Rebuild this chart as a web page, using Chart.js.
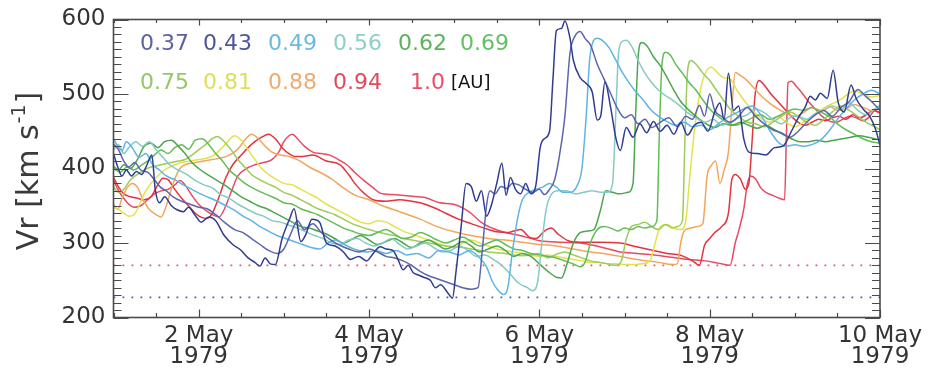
<!DOCTYPE html>
<html>
<head>
<meta charset="utf-8">
<script src="https://cdn.jsdelivr.net/npm/chart.js@4/dist/chart.umd.min.js"></script>
<style>
  html, body { margin: 0; padding: 0; background: #ffffff; }
  #wrap { width: 932px; height: 368px; }
</style>
</head>
<body>
<div id="wrap"><canvas id="vr" width="932" height="368"></canvas></div>
<script>
// Radial solar-wind speed Vr [km/s] at several heliocentric distances, 1-10 May 1979.
// Each series: [day of May (fractional), speed].

const distances = ['0.37', '0.43', '0.49', '0.56', '0.62', '0.69', '0.75', '0.81', '0.88', '0.94', '1.0'];
const unitLabel = '[AU]';

const dayTicks = [2, 4, 6, 8, 10];
const monthLabel = 'May';
const yearLabel = '1979';
const speedTicks = [200, 300, 400, 500, 600];
const dayRange = [1, 10];
const speedRange = [200, 600];

// reference speed levels (dotted)
const refLevels = [270, 227];

const v037 = [[1.00,420],[1.05,402],[1.10,390],[1.15,398],[1.21,390],[1.27,396],[1.33,392],[1.39,404],[1.45,418],[1.49,372],[1.54,354],[1.60,362],[1.68,350],[1.74,345],[1.82,342],[1.88,348],[1.96,337],[2.03,328],[2.12,335],[2.20,330],[2.30,310],[2.40,298],[2.49,291],[2.58,280],[2.66,274],[2.72,269],[2.78,280],[2.84,272],[2.90,271],[2.98,306],[3.07,333],[3.12,346],[3.20,302],[3.26,312],[3.33,332],[3.42,328],[3.50,300],[3.60,296],[3.70,288],[3.78,278],[3.88,282],[3.97,276],[4.05,286],[4.13,295],[4.20,292],[4.28,290],[4.34,278],[4.40,264],[4.46,270],[4.52,260],[4.58,257],[4.64,254],[4.72,250],[4.78,240],[4.84,244],[4.92,234],[4.98,226],[5.02,260],[5.08,320],[5.14,380],[5.20,376],[5.26,356],[5.32,370],[5.38,336],[5.44,352],[5.50,380],[5.56,407],[5.61,364],[5.66,388],[5.72,372],[5.78,366],[5.84,380],[5.90,366],[5.96,378],[6.01,428],[6.06,440],[6.12,450],[6.16,520],[6.20,585],[6.26,588],[6.30,598],[6.36,575],[6.40,545],[6.48,522],[6.55,514],[6.62,503],[6.68,465],[6.72,470],[6.77,516],[6.84,480],[6.90,440],[6.95,424],[7.02,455],[7.10,442],[7.18,460],[7.26,448],[7.34,463],[7.42,450],[7.50,458],[7.58,446],[7.66,462],[7.74,445],[7.82,458],[7.90,462],[7.98,450],[8.06,476],[8.12,488],[8.17,466],[8.22,528],[8.28,478],[8.34,484],[8.40,440],[8.46,422],[8.56,420],[8.66,418],[8.76,428],[8.86,430],[8.96,450],[9.04,468],[9.12,482],[9.18,497],[9.24,492],[9.30,501],[9.38,494],[9.45,532],[9.51,488],[9.58,476],[9.66,512],[9.72,494],[9.80,480],[9.88,470],[9.95,452],[10.0,431]];

const v043 = [[1.00,433],[1.06,425],[1.12,410],[1.18,402],[1.25,408],[1.32,398],[1.40,395],[1.48,385],[1.55,375],[1.62,370],[1.70,362],[1.80,356],[1.90,352],[2.00,348],[2.10,346],[2.20,338],[2.30,328],[2.42,318],[2.52,314],[2.62,306],[2.72,298],[2.82,290],[2.92,286],[3.00,292],[3.08,312],[3.16,330],[3.24,318],[3.34,326],[3.44,314],[3.54,305],[3.64,298],[3.76,292],[3.88,288],[4.00,292],[4.10,288],[4.20,282],[4.30,280],[4.40,276],[4.50,270],[4.60,262],[4.70,256],[4.80,252],[4.90,248],[5.00,244],[5.10,240],[5.20,238],[5.28,240],[5.33,290],[5.38,350],[5.42,370],[5.48,366],[5.55,376],[5.62,373],[5.68,380],[5.76,378],[5.84,372],[5.92,368],[6.00,372],[6.06,365],[6.12,372],[6.18,385],[6.24,420],[6.30,470],[6.36,555],[6.42,578],[6.48,584],[6.54,574],[6.60,566],[6.68,540],[6.76,520],[6.84,500],[6.92,480],[7.00,468],[7.08,472],[7.16,460],[7.24,466],[7.32,455],[7.42,462],[7.52,468],[7.62,456],[7.72,470],[7.80,466],[7.88,485],[7.94,470],[8.00,500],[8.06,478],[8.14,470],[8.24,462],[8.34,470],[8.44,482],[8.54,470],[8.64,460],[8.74,452],[8.84,448],[8.94,442],[9.04,450],[9.14,462],[9.24,472],[9.34,478],[9.44,470],[9.54,482],[9.64,490],[9.74,506],[9.82,498],[9.90,490],[10.0,478]];

const v049 = [[1.00,440],[1.05,430],[1.10,424],[1.15,436],[1.22,428],[1.30,415],[1.38,420],[1.46,405],[1.54,398],[1.62,390],[1.72,385],[1.82,378],[1.92,372],[2.02,366],[2.12,361],[2.22,356],[2.32,350],[2.42,344],[2.52,336],[2.62,330],[2.72,322],[2.82,316],[2.92,310],[3.02,306],[3.12,302],[3.22,298],[3.32,294],[3.42,292],[3.52,300],[3.60,304],[3.68,300],[3.78,294],[3.88,290],[3.98,288],[4.08,290],[4.20,286],[4.32,290],[4.44,284],[4.56,286],[4.70,280],[4.82,290],[4.94,288],[5.06,284],[5.18,290],[5.30,280],[5.38,268],[5.45,248],[5.52,236],[5.58,231],[5.63,240],[5.68,285],[5.74,330],[5.80,358],[5.88,368],[5.96,372],[6.04,375],[6.12,380],[6.20,375],[6.28,368],[6.36,368],[6.44,376],[6.50,400],[6.55,470],[6.59,545],[6.63,570],[6.68,575],[6.74,572],[6.82,562],[6.90,545],[6.98,528],[7.06,514],[7.14,502],[7.22,492],[7.30,480],[7.40,470],[7.50,463],[7.60,458],[7.70,462],[7.80,456],[7.90,458],[8.00,452],[8.10,460],[8.20,468],[8.30,474],[8.40,480],[8.50,484],[8.60,472],[8.70,452],[8.80,436],[8.90,430],[9.00,432],[9.10,430],[9.20,432],[9.30,438],[9.40,450],[9.50,466],[9.60,480],[9.70,492],[9.80,500],[9.90,505],[10.0,500]];

const v056 = [[1.00,425],[1.06,432],[1.12,420],[1.18,428],[1.26,436],[1.34,430],[1.42,436],[1.50,425],[1.58,415],[1.66,405],[1.76,398],[1.86,392],[1.96,384],[2.06,378],[2.16,374],[2.26,365],[2.36,360],[2.46,352],[2.56,346],[2.66,340],[2.76,336],[2.86,330],[2.96,328],[3.06,324],[3.16,320],[3.26,315],[3.36,310],[3.46,306],[3.56,300],[3.66,298],[3.76,304],[3.86,306],[3.96,300],[4.06,296],[4.16,300],[4.26,306],[4.36,298],[4.46,292],[4.56,296],[4.66,300],[4.76,294],[4.86,288],[4.96,290],[5.06,296],[5.16,290],[5.26,282],[5.36,284],[5.46,278],[5.56,270],[5.66,258],[5.76,246],[5.86,240],[5.92,236],[5.98,248],[6.03,300],[6.08,345],[6.14,365],[6.22,370],[6.32,370],[6.42,366],[6.52,368],[6.62,370],[6.72,368],[6.80,368],[6.86,380],[6.90,480],[6.93,555],[6.97,570],[7.02,572],[7.08,565],[7.16,545],[7.24,528],[7.32,515],[7.40,505],[7.48,498],[7.56,492],[7.64,485],[7.74,475],[7.84,468],[7.94,462],[8.04,466],[8.14,458],[8.24,462],[8.34,468],[8.44,472],[8.54,480],[8.64,475],[8.74,466],[8.84,460],[8.94,468],[9.04,470],[9.14,466],[9.24,474],[9.34,478],[9.44,484],[9.54,480],[9.64,488],[9.74,478],[9.84,472],[9.94,480],[10.0,485]];

const v062 = [[1.00,403],[1.06,398],[1.12,405],[1.20,400],[1.28,412],[1.36,430],[1.44,434],[1.52,428],[1.60,436],[1.68,438],[1.76,430],[1.84,420],[1.92,408],[2.00,400],[2.10,392],[2.20,385],[2.30,378],[2.40,370],[2.50,362],[2.60,356],[2.70,350],[2.80,346],[2.90,340],[3.00,334],[3.10,328],[3.20,322],[3.30,320],[3.40,316],[3.50,312],[3.60,306],[3.70,300],[3.80,305],[3.90,310],[4.00,304],[4.10,298],[4.20,302],[4.30,306],[4.40,300],[4.50,294],[4.60,300],[4.70,304],[4.80,298],[4.90,292],[5.00,296],[5.10,302],[5.20,296],[5.30,288],[5.40,292],[5.50,296],[5.60,290],[5.70,282],[5.80,286],[5.90,282],[6.00,272],[6.10,262],[6.20,254],[6.26,253],[6.32,270],[6.40,300],[6.48,314],[6.56,316],[6.64,318],[6.72,345],[6.78,370],[6.86,368],[6.94,366],[7.04,368],[7.10,380],[7.13,470],[7.16,550],[7.20,569],[7.26,565],[7.34,550],[7.42,538],[7.50,522],[7.58,505],[7.66,490],[7.76,478],[7.86,468],[7.96,460],[8.06,455],[8.16,460],[8.26,458],[8.36,462],[8.46,458],[8.56,454],[8.66,458],[8.76,452],[8.86,446],[8.96,440],[9.06,436],[9.16,436],[9.26,438],[9.36,436],[9.46,438],[9.56,440],[9.66,442],[9.76,444],[9.86,442],[9.94,440],[10.0,438]];

const v069 = [[1.00,400],[1.08,395],[1.16,402],[1.24,398],[1.32,404],[1.40,410],[1.48,418],[1.56,425],[1.64,420],[1.72,428],[1.80,432],[1.88,426],[1.96,438],[2.04,440],[2.12,432],[2.20,420],[2.28,410],[2.36,398],[2.44,390],[2.52,382],[2.60,376],[2.70,370],[2.80,365],[2.90,360],[3.00,354],[3.10,352],[3.20,346],[3.30,342],[3.40,338],[3.50,332],[3.60,326],[3.70,320],[3.80,316],[3.90,312],[4.00,310],[4.10,314],[4.20,318],[4.30,312],[4.40,306],[4.50,308],[4.60,314],[4.70,310],[4.80,304],[4.90,300],[5.00,304],[5.10,308],[5.20,302],[5.30,296],[5.40,300],[5.50,304],[5.60,298],[5.70,292],[5.80,290],[5.90,286],[6.00,284],[6.10,282],[6.20,280],[6.30,276],[6.40,272],[6.48,268],[6.54,275],[6.60,300],[6.68,318],[6.76,322],[6.84,320],[6.92,316],[7.00,320],[7.08,318],[7.16,322],[7.24,320],[7.32,322],[7.38,330],[7.41,450],[7.44,540],[7.48,556],[7.54,552],[7.60,540],[7.68,528],[7.76,515],[7.84,505],[7.92,492],[8.00,480],[8.10,470],[8.20,462],[8.30,458],[8.40,462],[8.50,468],[8.60,472],[8.70,466],[8.80,470],[8.90,476],[9.00,480],[9.10,478],[9.20,482],[9.30,476],[9.40,470],[9.50,460],[9.60,452],[9.70,446],[9.80,440],[9.90,436],[10.0,434]];

const v075 = [[1.00,375],[1.06,368],[1.12,372],[1.20,385],[1.28,392],[1.36,398],[1.44,402],[1.52,404],[1.60,406],[1.68,408],[1.76,410],[1.84,412],[1.92,418],[2.00,425],[2.08,432],[2.16,440],[2.22,443],[2.30,436],[2.38,425],[2.46,412],[2.54,402],[2.62,392],[2.70,386],[2.80,380],[2.90,375],[3.00,368],[3.10,364],[3.20,358],[3.30,352],[3.40,346],[3.50,342],[3.60,338],[3.70,332],[3.80,326],[3.90,322],[4.00,318],[4.10,315],[4.20,312],[4.30,310],[4.40,306],[4.50,304],[4.60,302],[4.70,300],[4.80,298],[4.90,296],[5.00,295],[5.10,294],[5.20,292],[5.30,290],[5.40,288],[5.50,287],[5.60,286],[5.70,284],[5.80,283],[5.90,284],[6.00,286],[6.10,280],[6.20,285],[6.30,288],[6.40,284],[6.50,280],[6.60,276],[6.70,274],[6.80,272],[6.90,270],[6.96,275],[7.02,305],[7.08,322],[7.16,325],[7.24,328],[7.32,322],[7.40,318],[7.48,325],[7.56,320],[7.62,322],[7.68,330],[7.71,440],[7.74,530],[7.78,545],[7.84,540],[7.92,528],[8.00,518],[8.08,505],[8.16,492],[8.24,480],[8.34,470],[8.44,462],[8.54,460],[8.64,456],[8.74,462],[8.84,470],[8.94,476],[9.04,470],[9.14,462],[9.24,458],[9.34,466],[9.44,476],[9.54,484],[9.64,478],[9.74,470],[9.84,462],[9.94,456],[10.0,452]];

const v081 = [[1.00,348],[1.06,345],[1.12,340],[1.18,336],[1.24,338],[1.30,350],[1.36,366],[1.44,380],[1.52,390],[1.60,398],[1.70,404],[1.80,408],[1.90,410],[2.00,412],[2.10,414],[2.18,418],[2.26,426],[2.34,436],[2.42,444],[2.50,438],[2.58,425],[2.66,412],[2.74,400],[2.82,392],[2.90,386],[3.00,380],[3.10,378],[3.20,372],[3.30,366],[3.40,360],[3.50,352],[3.60,346],[3.70,340],[3.80,334],[3.90,328],[4.00,326],[4.10,330],[4.20,328],[4.30,322],[4.40,316],[4.50,312],[4.60,308],[4.70,304],[4.80,300],[4.90,296],[5.00,294],[5.10,300],[5.20,304],[5.30,300],[5.40,296],[5.50,292],[5.60,290],[5.70,288],[5.80,286],[5.90,284],[6.00,282],[6.10,284],[6.20,282],[6.30,280],[6.40,278],[6.50,276],[6.60,274],[6.70,274],[6.80,272],[6.90,272],[7.00,271],[7.10,271],[7.20,272],[7.30,276],[7.36,300],[7.42,322],[7.50,325],[7.58,320],[7.66,318],[7.72,330],[7.76,380],[7.82,450],[7.90,510],[7.98,534],[8.02,536],[8.08,530],[8.16,522],[8.24,520],[8.32,505],[8.40,492],[8.50,478],[8.60,468],[8.70,462],[8.80,470],[8.90,462],[9.00,456],[9.10,462],[9.20,470],[9.30,478],[9.40,485],[9.50,490],[9.60,498],[9.70,504],[9.80,500],[9.90,496],[10.0,498]];

const v088 = [[1.00,352],[1.05,345],[1.10,360],[1.16,374],[1.22,380],[1.28,375],[1.34,360],[1.42,345],[1.50,338],[1.56,335],[1.62,350],[1.70,380],[1.78,400],[1.86,406],[1.96,408],[2.06,410],[2.16,412],[2.26,414],[2.36,418],[2.46,426],[2.54,438],[2.62,446],[2.70,440],[2.78,430],[2.86,422],[2.96,418],[3.06,416],[3.16,412],[3.30,402],[3.44,394],[3.56,386],[3.70,374],[3.84,364],[4.00,358],[4.16,350],[4.36,342],[4.60,332],[4.80,322],[5.00,315],[5.20,310],[5.40,306],[5.60,304],[5.80,301],[6.00,298],[6.20,296],[6.40,292],[6.60,288],[6.80,285],[7.00,281],[7.20,277],[7.40,274],[7.56,271],[7.62,272],[7.66,300],[7.70,316],[7.78,320],[7.86,322],[7.92,326],[7.97,390],[8.02,404],[8.07,410],[8.12,380],[8.17,398],[8.22,422],[8.26,480],[8.30,529],[8.36,525],[8.44,518],[8.52,508],[8.60,498],[8.70,488],[8.80,480],[8.90,474],[9.00,470],[9.10,475],[9.20,482],[9.30,478],[9.40,484],[9.50,478],[9.60,480],[9.70,486],[9.80,482],[9.90,478],[10.0,484]];

const v094 = [[1.00,388],[1.06,375],[1.12,366],[1.20,362],[1.28,360],[1.36,358],[1.44,362],[1.52,378],[1.58,387],[1.64,385],[1.72,372],[1.80,360],[1.88,350],[1.96,340],[2.04,334],[2.10,333],[2.16,340],[2.24,362],[2.32,388],[2.40,405],[2.50,418],[2.58,428],[2.66,436],[2.74,442],[2.82,446],[2.90,440],[2.98,428],[3.06,420],[3.14,416],[3.22,416],[3.34,418],[3.50,410],[3.66,405],[3.76,392],[3.84,379],[3.95,366],[4.05,358],[4.20,356],[4.36,358],[4.50,356],[4.60,354],[4.75,348],[4.90,340],[5.05,332],[5.20,326],[5.35,320],[5.50,315],[5.62,314],[5.70,316],[5.78,318],[5.88,308],[5.96,306],[6.06,316],[6.14,320],[6.22,312],[6.34,303],[6.48,301],[6.70,301],[6.95,300],[7.10,296],[7.30,291],[7.50,286],[7.65,284],[7.80,276],[7.88,270],[7.94,297],[8.00,306],[8.06,314],[8.14,322],[8.22,340],[8.26,385],[8.30,392],[8.36,386],[8.42,372],[8.46,380],[8.50,440],[8.53,495],[8.58,518],[8.64,512],[8.72,500],[8.80,490],[8.88,480],[8.96,470],[9.04,462],[9.12,458],[9.20,462],[9.28,466],[9.36,464],[9.44,468],[9.52,470],[9.60,466],[9.68,472],[9.76,468],[9.84,472],[9.92,478],[10.0,475]];

const v100 = [[1.00,384],[1.06,370],[1.12,360],[1.18,352],[1.24,348],[1.32,350],[1.40,358],[1.48,366],[1.56,370],[1.64,372],[1.72,378],[1.78,384],[1.84,378],[1.92,364],[2.00,352],[2.08,344],[2.16,338],[2.24,335],[2.30,345],[2.38,368],[2.46,390],[2.56,400],[2.66,405],[2.76,408],[2.86,412],[2.94,422],[3.00,436],[3.06,444],[3.10,446],[3.16,440],[3.24,430],[3.34,422],[3.44,420],[3.54,418],[3.64,412],[3.74,405],[3.84,394],[3.95,383],[4.05,374],[4.13,367],[4.28,365],[4.48,363],[4.66,361],[4.83,354],[4.99,352],[5.16,343],[5.34,326],[5.54,316],[5.77,310],[6.01,303],[6.24,301],[6.48,300],[6.71,295],[6.95,288],[7.15,286],[7.35,284],[7.55,281],[7.75,278],[7.95,276],[8.10,273],[8.24,270],[8.30,300],[8.34,316],[8.40,345],[8.44,378],[8.48,390],[8.54,386],[8.60,374],[8.66,368],[8.74,364],[8.82,360],[8.88,358],[8.90,440],[8.92,515],[8.96,517],[9.02,510],[9.08,502],[9.16,490],[9.24,480],[9.32,470],[9.40,464],[9.48,462],[9.56,466],[9.64,470],[9.72,468],[9.80,464],[9.88,470],[9.94,478],[10.0,474]];

const seriesValues = [v037, v043, v049, v056, v062, v069, v075, v081, v088, v094, v100];

// line colours, innermost (blue) to outermost (red)
const lineColors = ['#2f3c8f', '#5c66ab', '#5fb4e3', '#86cbc3', '#4ca64e', '#62bd55', '#9dcb5c', '#e3e24a', '#f2a65c', '#e2343f', '#e84a62'];
const labelColors = ['#5d62a0', '#4c5799', '#69b9e2', '#8fcfc9', '#5eb25e', '#62c062', '#94c866', '#dedf58', '#f0aa6e', '#e04a5a', '#e8506a'];
const refColors = ['#e2586a', '#4f5ab0'];

const FONT = "'DejaVu Sans', 'Liberation Sans', sans-serif";

const datasets = seriesValues.map((vals, i) => ({
  label: distances[i] + ' AU',
  data: vals.map(([d, v]) => ({ x: d, y: v })),
  borderColor: lineColors[i],
  borderWidth: 1.5,
  pointRadius: 0,
  cubicInterpolationMode: 'monotone',
  fill: false
}));

refLevels.forEach((lvl, i) => {
  datasets.push({
    label: 'ref' + i,
    data: [{ x: dayRange[0], y: lvl }, { x: dayRange[1], y: lvl }],
    borderColor: refColors[i],
    borderWidth: 1.6,
    borderDash: [1.8, 7.2],
    pointRadius: 0,
    fill: false
  });
});

// frame with inward tick marks on all four sides, plus in-plot legend and y title
const framePlugin = {
  id: 'frameTicks',
  afterDatasetsDraw(chart) {
    const { ctx, chartArea: a, scales: { x, y } } = chart;
    ctx.save();
    ctx.strokeStyle = '#4a4a4a';
    ctx.lineWidth = 1.2;
    ctx.beginPath();
    for (let v = speedRange[0]; v <= speedRange[1]; v += 10) {
      const py = Math.round(y.getPixelForValue(v)) + 0.5;
      const len = (v % 100 === 0) ? 15 : 8;
      ctx.moveTo(a.left, py); ctx.lineTo(a.left + len, py);
      ctx.moveTo(a.right, py); ctx.lineTo(a.right - len, py);
    }
    for (let d = dayRange[0]; d <= dayRange[1] + 1e-6; d += 0.5) {
      const px = Math.round(x.getPixelForValue(d)) + 0.5;
      const major = dayTicks.includes(d);
      const lb = major ? 8 : 4.5;
      const lt = major ? 6 : 3.5;
      ctx.moveTo(px, a.bottom); ctx.lineTo(px, a.bottom - lb);
      ctx.moveTo(px, a.top); ctx.lineTo(px, a.top + lt);
    }
    ctx.stroke();
    ctx.lineWidth = 1.6;
    ctx.strokeRect(a.left, a.top, a.right - a.left, a.bottom - a.top);
    ctx.restore();
  },
  afterDraw(chart) {
    const { ctx } = chart;
    ctx.save();
    // distance legend inside the plot
    const rowY = [44, 83];
    const colX = [[140, 203, 268, 333, 398, 460], [140, 203, 268, 333, 410]];
    ctx.font = '22px ' + FONT;
    ctx.textBaseline = 'middle';
    ctx.textAlign = 'left';
    distances.forEach((lab, i) => {
      const row = i < 6 ? 0 : 1;
      const col = i < 6 ? i : i - 6;
      ctx.fillStyle = labelColors[i];
      ctx.fillText(lab, colX[row][col], rowY[row]);
    });
    ctx.fillStyle = '#111111';
    ctx.font = '18px ' + FONT;
    ctx.fillText(unitLabel, 451, rowY[1]);

    // rotated y-axis title with superscript
    ctx.translate(30, 171);
    ctx.rotate(-Math.PI / 2);
    ctx.fillStyle = '#3a3a3a';
    const main = 'Vr [km s';
    const sup = '-1';
    const close = ']';
    ctx.font = '30px ' + FONT;
    const w1 = ctx.measureText(main).width;
    const w3 = ctx.measureText(close).width;
    ctx.font = '19px ' + FONT;
    const w2 = ctx.measureText(sup).width;
    let sx = -(w1 + w2 + w3 + 2) / 2;
    ctx.textBaseline = 'middle';
    ctx.font = '30px ' + FONT;
    ctx.fillText(main, sx, 0);
    sx += w1;
    ctx.font = '19px ' + FONT;
    ctx.fillText(sup, sx + 1, -10);
    sx += w2 + 2;
    ctx.font = '30px ' + FONT;
    ctx.fillText(close, sx, 0);
    ctx.restore();
  }
};

new Chart(document.getElementById('vr'), {
  type: 'line',
  data: { datasets },
  options: {
    responsive: false,
    animation: false,
    devicePixelRatio: 1,
    layout: { padding: { left: 0, right: 52, top: 13, bottom: 0 } },
    plugins: { legend: { display: false }, tooltip: { enabled: false } },
    scales: {
      x: {
        type: 'linear',
        min: dayRange[0],
        max: dayRange[1],
        grid: { display: false, drawTicks: false },
        border: { display: false },
        afterBuildTicks: (s) => { s.ticks = dayTicks.map(v => ({ value: v })); },
        afterFit: (s) => { s.height = 50.5; },
        ticks: {
          padding: 8,
          color: '#333333',
          maxRotation: 0,
          autoSkip: false,
          font: { family: FONT, size: 23, lineHeight: 0.9 },
          callback: (v) => [v + ' ' + monthLabel, yearLabel]
        }
      },
      y: {
        type: 'linear',
        min: speedRange[0],
        max: speedRange[1],
        grid: { display: false, drawTicks: false },
        border: { display: false },
        afterBuildTicks: (s) => { s.ticks = speedTicks.map(v => ({ value: v })); },
        afterFit: (s) => { s.width = 113.5; },
        ticks: {
          padding: 8,
          color: '#333333',
          font: { family: FONT, size: 23, lineHeight: 1 }
        }
      }
    }
  },
  plugins: [framePlugin]
});
</script>
</body>
</html>
